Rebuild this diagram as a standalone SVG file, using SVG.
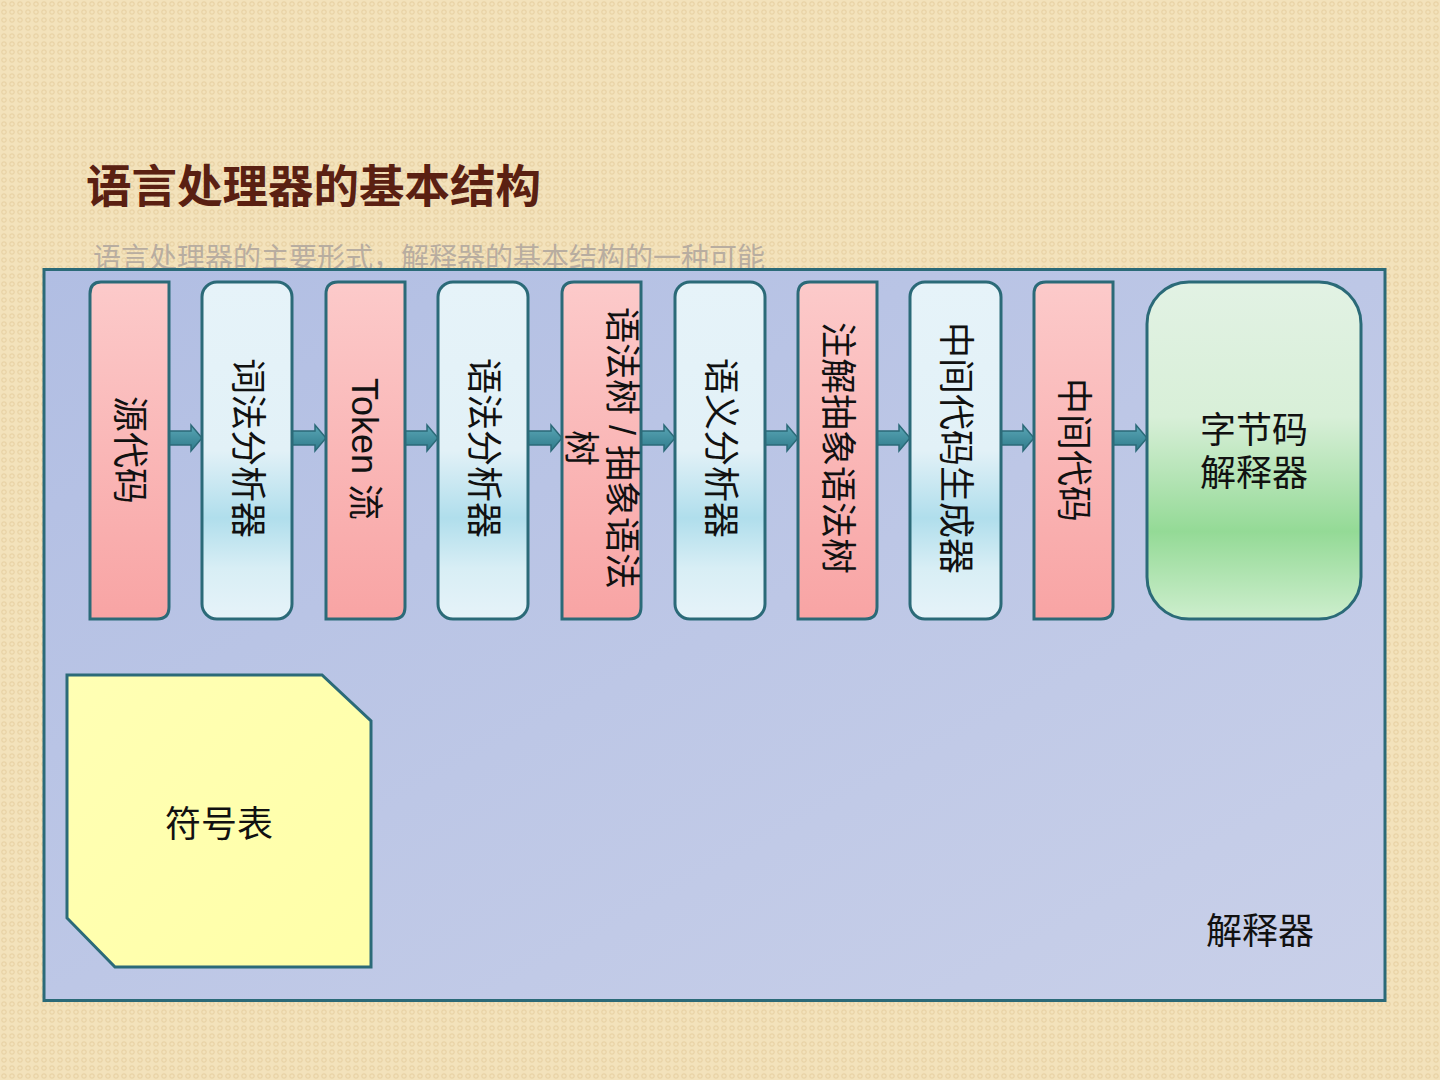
<svg xmlns="http://www.w3.org/2000/svg" width="1440" height="1080" viewBox="0 0 1440 1080">
<style>
.cjk{font-family:"Liberation Sans","Noto Sans CJK SC",sans-serif;}
.lbl{font-size:36px;fill:#111;text-anchor:middle;dominant-baseline:central;}
.pink{fill:url(#gPink);stroke:#2b6a78;stroke-width:3;}
.blue{fill:url(#gBlue);stroke:#2b6a78;stroke-width:3;}
.arrow{fill:url(#gArrow);stroke:#2b6a78;stroke-width:1.5;}
</style>
<defs>
<pattern id="bgPat" width="8" height="8" patternUnits="userSpaceOnUse">
<rect width="8" height="8" fill="#f3e2bb"/>
<circle cx="4" cy="4" r="2.2" fill="none" stroke="#e9d3a6" stroke-width="1.2"/>
</pattern>
<linearGradient id="gCont" x1="0" y1="0" x2="1" y2="1">
<stop offset="0" stop-color="#b1bee3"/>
<stop offset="1" stop-color="#c9d0e9"/>
</linearGradient>
<linearGradient id="gPink" x1="0" y1="0" x2="0" y2="1">
<stop offset="0" stop-color="#fccaca"/>
<stop offset="1" stop-color="#f8a4a4"/>
</linearGradient>
<linearGradient id="gBlue" x1="0" y1="0" x2="0" y2="1">
<stop offset="0" stop-color="#e6f3f9"/>
<stop offset="0.5" stop-color="#e2f1f7"/>
<stop offset="0.7" stop-color="#b0deec"/>
<stop offset="0.85" stop-color="#d8eef5"/>
<stop offset="1" stop-color="#e6f3f9"/>
</linearGradient>
<linearGradient id="gGreen" x1="0" y1="0" x2="0" y2="1">
<stop offset="0" stop-color="#e2f2e4"/>
<stop offset="0.4" stop-color="#d8efd8"/>
<stop offset="0.74" stop-color="#94da96"/>
<stop offset="1" stop-color="#cdeecd"/>
</linearGradient>
<linearGradient id="gYellow" x1="0" y1="0" x2="1" y2="1">
<stop offset="0" stop-color="#ffffb4"/>
<stop offset="1" stop-color="#ffffa8"/>
</linearGradient>
<linearGradient id="gArrow" x1="0" y1="0" x2="0" y2="1">
<stop offset="0" stop-color="#5aa6b6"/>
<stop offset="1" stop-color="#2f7a8a"/>
</linearGradient>
</defs>

<rect x="0" y="0" width="1440" height="1080" fill="url(#bgPat)"/>

<text x="86" y="203" class="cjk" font-size="45.5" font-weight="bold" fill="#5a2012">语言处理器的基本结构</text>
<text x="93" y="268" class="cjk" font-size="28" fill="#b8ada0">语言处理器的主要形式，解释器的基本结构的一种可能</text>

<g id="container">
<rect x="44" y="269.5" width="1341" height="731" fill="url(#gCont)" stroke="#2b6a78" stroke-width="3"/>
<text x="1260" y="931" class="cjk lbl" font-size="36">解释器</text>
</g>

<g id="connectors">
<path class="arrow" d="M169,431 H191 V425 L202,438 L191,451 V445 H169 Z"/>
<path class="arrow" d="M292,431 H315 V425 L326,438 L315,451 V445 H292 Z"/>
<path class="arrow" d="M405,431 H427 V425 L438,438 L427,451 V445 H405 Z"/>
<path class="arrow" d="M528,431 H551 V425 L562,438 L551,451 V445 H528 Z"/>
<path class="arrow" d="M641,431 H664 V425 L675,438 L664,451 V445 H641 Z"/>
<path class="arrow" d="M765,431 H787 V425 L798,438 L787,451 V445 H765 Z"/>
<path class="arrow" d="M877,431 H899 V425 L910,438 L899,451 V445 H877 Z"/>
<path class="arrow" d="M1001,431 H1023 V425 L1034,438 L1023,451 V445 H1001 Z"/>
<path class="arrow" d="M1113,431 H1136 V425 L1147,438 L1136,451 V445 H1113 Z"/>
</g>

<g id="n1">
<path class="pink" d="M101,282 H169 V607 Q169,619 157,619 H90 V294 Q90,282 101,282 Z"/>
<text class="cjk lbl" font-size="37" transform="translate(129,450) rotate(90)">源代码</text>
</g>
<g id="n2">
<rect class="blue" x="202" y="282" width="90" height="337" rx="15"/>
<text class="cjk lbl" transform="translate(247,448) rotate(90)">词法分析器</text>
</g>
<g id="n3">
<path class="pink" d="M338,282 H405 V607 Q405,619 393,619 H326 V294 Q326,282 338,282 Z"/>
<text class="cjk lbl" transform="translate(364,449) rotate(90)">Token 流</text>
</g>
<g id="n4">
<rect class="blue" x="438" y="282" width="90" height="337" rx="15"/>
<text class="cjk lbl" transform="translate(483,448) rotate(90)">语法分析器</text>
</g>
<g id="n5">
<path class="pink" d="M574,282 H641 V607 Q641,619 629,619 H562 V294 Q562,282 574,282 Z"/>
<text class="cjk lbl" transform="translate(601,448) rotate(90)"><tspan x="0" y="-21">语法树 / 抽象语法</tspan><tspan x="0" y="20">树</tspan></text>
</g>
<g id="n6">
<rect class="blue" x="675" y="282" width="90" height="337" rx="15"/>
<text class="cjk lbl" transform="translate(720,448) rotate(90)">语义分析器</text>
</g>
<g id="n7">
<path class="pink" d="M810,282 H877 V607 Q877,619 865,619 H798 V294 Q798,282 810,282 Z"/>
<text class="cjk lbl" transform="translate(837,448) rotate(90)">注解抽象语法树</text>
</g>
<g id="n8">
<rect class="blue" x="910" y="282" width="91" height="337" rx="15"/>
<text class="cjk lbl" transform="translate(955,448) rotate(90)">中间代码生成器</text>
</g>
<g id="n9">
<path class="pink" d="M1046,282 H1113 V607 Q1113,619 1101,619 H1034 V294 Q1034,282 1046,282 Z"/>
<text class="cjk lbl" font-size="37" transform="translate(1073,450) rotate(90)">中间代码</text>
</g>
<g id="n10">
<rect x="1147" y="282" width="214" height="337" rx="42" fill="url(#gGreen)" stroke="#2b6a78" stroke-width="3"/>
<text class="cjk lbl" x="1254" y="430" font-size="37">字节码</text>
<text class="cjk lbl" x="1254" y="473" font-size="37">解释器</text>
</g>
<g id="n11">
<path d="M67,675 H322 L371,721 V967 H115 L67,918 Z" fill="url(#gYellow)" stroke="#2b6a78" stroke-width="3"/>
<text class="cjk lbl" x="219" y="824" font-size="43">符号表</text>
</g>
</svg>
